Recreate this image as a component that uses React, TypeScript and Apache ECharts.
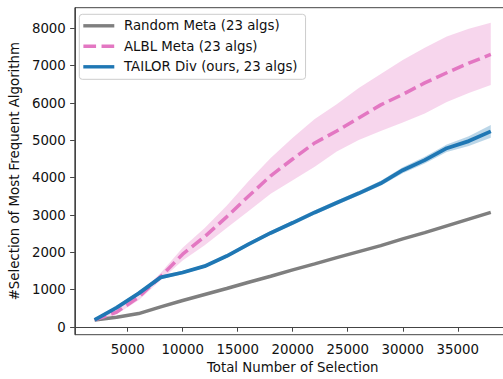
import React, { useEffect, useRef } from "react";
import * as echarts from "echarts";

const xs = [2000, 4000, 6000, 8000, 10000, 12000, 14000, 16000, 18000, 20000, 22000, 24000, 26000, 28000, 30000, 32000, 34000, 36000, 38000];
const randomMeta = [190, 260, 360, 540, 710, 870, 1030, 1200, 1360, 1530, 1690, 1860, 2020, 2180, 2360, 2530, 2710, 2890, 3070];
const albMean = [190, 400, 800, 1350, 1950, 2420, 2950, 3510, 4050, 4500, 4930, 5250, 5600, 5950, 6230, 6540, 6810, 7070, 7300];
const albLower = [170, 340, 720, 1250, 1780, 2190, 2650, 3110, 3570, 3930, 4290, 4700, 5010, 5250, 5480, 5720, 6030, 6270, 6480];
const albUpper = [210, 460, 880, 1450, 2120, 2650, 3250, 3910, 4530, 5070, 5570, 5970, 6400, 6780, 7150, 7480, 7780, 7990, 8150];
const tailorMean = [190, 520, 900, 1330, 1460, 1630, 1900, 2220, 2520, 2790, 3070, 3330, 3580, 3850, 4200, 4470, 4790, 4980, 5240];
const tailorLower = [175, 480, 850, 1280, 1415, 1590, 1855, 2170, 2470, 2735, 3015, 3270, 3520, 3785, 4120, 4380, 4690, 4850, 5070];
const tailorUpper = [205, 560, 950, 1380, 1505, 1670, 1945, 2270, 2570, 2845, 3125, 3390, 3640, 3915, 4280, 4560, 4890, 5110, 5410];

const xTicks = [5000, 10000, 15000, 20000, 25000, 30000, 35000];
const yTicks = [0, 1000, 2000, 3000, 4000, 5000, 6000, 7000, 8000];

const names = ["Random Meta (23 algs)", "ALBL Meta (23 algs)", "TAILOR Div (ours, 23 algs)"];
const colors = { gray: "#7f7f7f", pink: "#e377c2", blue: "#1f77b4" };

const pair = (ys: number[]) => xs.map((x, i) => [x, ys[i]]);

const FONT = "DejaVu Sans";
const FS = 13.33;
const TXT = "#111";
const SPINE = "#444";

function band(name: string, lo: number[], hi: number[], fill: string, z: number) {
  return {
    name,
    type: "custom",
    silent: true,
    z,
    clip: true,
    data: xs.map((x, i) => [x, lo[i], hi[i]]),
    encode: { x: 0, y: [1, 2] },
    renderItem: (params: any, api: any) => {
      if (params.dataIndex !== 0) return null;
      const top = xs.map((x, i) => api.coord([x, hi[i]]));
      const bot = xs.map((x, i) => api.coord([x, lo[i]])).reverse();
      return {
        type: "polygon",
        shape: { points: top.concat(bot) },
        style: { fill, stroke: "none" },
      };
    },
  };
}

export default function App() {
  const ref = useRef<HTMLDivElement>(null);
  useEffect(() => {
    if (!ref.current) return;
    const chart = echarts.init(ref.current, undefined, { renderer: "svg" });
    chart.setOption({
      animation: false,
      textStyle: { fontFamily: FONT },
      grid: {
        left: 72.3,
        top: 7.7,
        width: 438.3,
        height: 327,
        show: true,
        borderColor: SPINE,
        borderWidth: 1,
        backgroundColor: "transparent",
      },
      legend: {
        orient: "vertical",
        left: 79.3,
        top: 14.3,
        data: [
          { name: names[0], icon: "rect" },
          { name: names[1], icon: "path://M0,0h12.3v3.3h-12.3z M17.6,0h12.3v3.3h-12.3z" },
          { name: names[2], icon: "rect" },
        ],
        itemWidth: 31,
        itemHeight: 3.4,
        itemGap: 4.5,
        padding: [3.5, 8, 4.5, 4],
        backgroundColor: "rgba(255,255,255,0.8)",
        borderColor: "#cccccc",
        borderWidth: 1,
        borderRadius: 3,
        textStyle: { fontFamily: FONT, fontSize: FS, color: TXT, padding: [0, 0, 0, 4.7], lineHeight: 16 },
        z: 10,
      },
      xAxis: {
        type: "value",
        min: 200,
        max: 39800,
        name: "Total Number of Selection",
        nameLocation: "middle",
        nameGap: 26,
        nameTextStyle: { fontFamily: FONT, fontSize: FS, color: TXT },
        axisLine: { show: true, lineStyle: { color: SPINE, width: 1 } },
        axisTick: { show: true, length: 4.7, lineStyle: { color: SPINE, width: 1 }, customValues: xTicks },
        axisLabel: { fontFamily: FONT, fontSize: FS, color: TXT, margin: 8, customValues: xTicks, formatter: (v: number) => String(v) },
        splitLine: { show: false },
      },
      yAxis: {
        type: "value",
        min: -206,
        max: 8553,
        name: "#Selection of Most Frequent Algorithm",
        nameLocation: "middle",
        nameGap: 48.5,
        nameTextStyle: { fontFamily: FONT, fontSize: FS, color: TXT },
        axisLine: { show: true, lineStyle: { color: SPINE, width: 1 } },
        axisTick: { show: true, length: 4.7, lineStyle: { color: SPINE, width: 1 }, customValues: yTicks },
        axisLabel: { fontFamily: FONT, fontSize: FS, color: TXT, margin: 9, customValues: yTicks, formatter: (v: number) => String(v) },
        splitLine: { show: false },
      },
      series: [
        {
          name: names[0],
          type: "line",
          data: pair(randomMeta),
          symbol: "none",
          color: colors.gray,
          lineStyle: { color: colors.gray, width: 3.5 },
          z: 2,
        },
        band("albBand", albLower, albUpper, "rgba(227,119,194,0.3)", 1),
        {
          name: names[1],
          type: "line",
          data: pair(albMean),
          symbol: "none",
          color: colors.pink,
          lineStyle: { color: colors.pink, width: 3.5, type: [12.3, 5.3], cap: "butt" },
          z: 3,
        },
        band("tBand", tailorLower, tailorUpper, "rgba(31,119,180,0.3)", 3),
        {
          name: names[2],
          type: "line",
          data: pair(tailorMean),
          symbol: "none",
          color: colors.blue,
          lineStyle: { color: colors.blue, width: 3.8 },
          z: 4,
        },
      ],
    });
    return () => chart.dispose();
  }, []);
  return (
    <div style={{ position: "fixed", left: 0, top: 0, width: 503, height: 379, overflow: "hidden", background: "#fff" }}>
      <div ref={ref} style={{ width: 520, height: 379 }} />
    </div>
  );
}
